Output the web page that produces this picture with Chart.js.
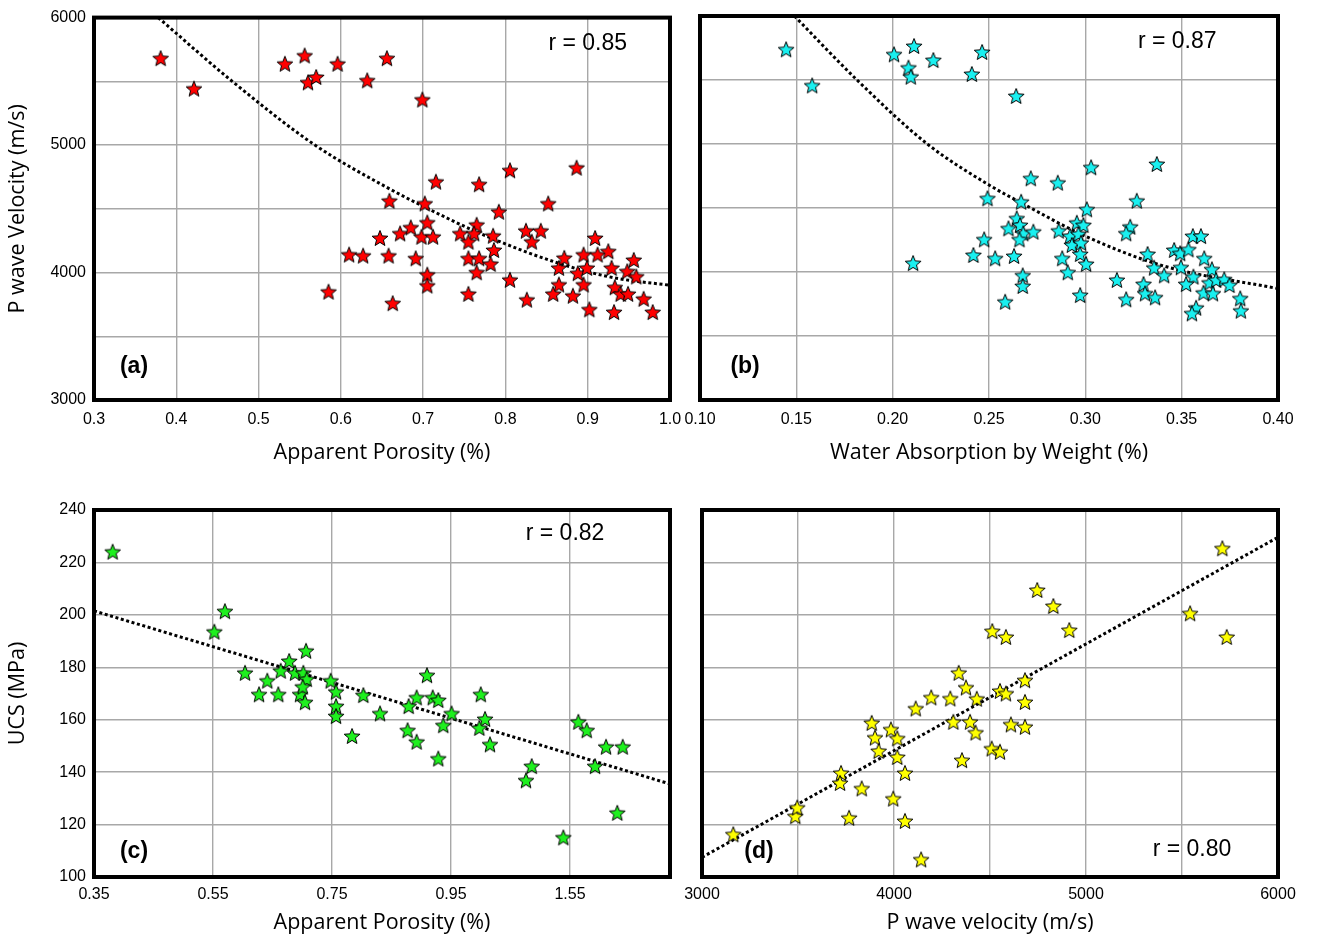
<!DOCTYPE html>
<html>
<head>
<meta charset="utf-8">
<script src="https://cdn.jsdelivr.net/npm/chart.js@4.4.1/dist/chart.umd.min.js"></script>
<style>
    html, body { margin: 0; padding: 0; background: #fff; }
    #wrap { position: relative; width: 1318px; height: 943px; }
    #wrap canvas { position: absolute; left: 0; top: 0; }
</style>
</head>
<body>
<div id="wrap">
    <canvas id="chart-a" width="1318" height="943"></canvas>
    <canvas id="chart-b" width="1318" height="943"></canvas>
    <canvas id="chart-c" width="1318" height="943"></canvas>
    <canvas id="chart-d" width="1318" height="943"></canvas>
</div>
<script>
// (a) apparent porosity vs P wave velocity
const porosityA = [0.381, 0.4215, 0.532, 0.556, 0.560, 0.570, 0.596, 0.632, 0.656, 0.699,
    0.659, 0.7155, 0.768, 0.8055, 0.8865, 0.852, 0.702, 0.792, 0.6475, 0.672,
    0.685, 0.705, 0.698, 0.712, 0.658, 0.691, 0.705, 0.705, 0.663, 0.745,
    0.765, 0.762, 0.755, 0.785, 0.786, 0.755, 0.768, 0.782, 0.765, 0.755,
    0.8055, 0.825, 0.843, 0.832, 0.826, 0.865, 0.8715, 0.865, 0.858, 0.882,
    0.888, 0.895, 0.899, 0.895, 0.909, 0.912, 0.902, 0.925, 0.929, 0.933,
    0.940, 0.949, 0.948, 0.956, 0.959, 0.932, 0.968, 0.979, 0.585, 0.610, 0.627];
const velocityA = [5682, 5443, 5638, 5703, 5492, 5534, 5638, 5508, 5682, 5357,
    4563, 4713, 4693, 4802, 4823, 4542, 4542, 4477, 4271, 4307,
    4354, 4393, 4281, 4281, 4133, 4112, 3984, 3898, 3760, 4307,
    4375, 4307, 4242, 4289, 4177, 4112, 4112, 4068, 4002, 3833,
    3943, 4328, 4328, 4242, 3787, 4037, 4115, 3906, 3833, 3818,
    3995, 4141, 4037, 3906, 4271, 4141, 3711, 4167, 4037, 3885,
    3833, 3833, 4010, 4099, 3969, 3690, 3794, 3690, 3850, 4141, 4133];
const trendAX = [0.378, 0.468, 0.5685, 0.657, 0.70, 0.77, 0.866, 0.931, 1.0];
const trendAY = [6000, 5500, 5000, 4664, 4520, 4305, 4070, 3960, 3900];

// (b) water absorption vs P wave velocity
const absorptionB = [0.1447, 0.1582, 0.2007, 0.2111, 0.2082, 0.2094, 0.2211, 0.2411, 0.2464, 0.2641,
    0.303, 0.3371, 0.2717, 0.2857, 0.2492, 0.2667, 0.3008, 0.3267, 0.2644, 0.2661,
    0.2601, 0.2678, 0.273, 0.2658, 0.2475, 0.2419, 0.2532, 0.2630, 0.2675, 0.2675,
    0.2584, 0.2862, 0.2956, 0.299, 0.2921, 0.2964, 0.293, 0.2977, 0.288, 0.2973,
    0.3004, 0.2909, 0.2973, 0.3233, 0.3212, 0.3164, 0.3212, 0.3323, 0.3357, 0.3302,
    0.331, 0.3362, 0.3409, 0.3461, 0.3492, 0.3535, 0.3558, 0.360, 0.3496, 0.3561,
    0.3523, 0.3617, 0.3657, 0.3644, 0.3679, 0.3613, 0.3662, 0.3721, 0.3748, 0.3575,
    0.3553, 0.3804, 0.3807, 0.2106];
const velocityB = [5740, 5458, 5701, 5766, 5597, 5526, 5656, 5547, 5719, 5375,
    4818, 4844, 4732, 4698, 4576, 4549, 4490, 4557, 4419, 4367,
    4341, 4302, 4315, 4255, 4255, 4133, 4107, 4125, 3974, 3891,
    3768, 4323, 4385, 4367, 4281, 4297, 4211, 4229, 4107, 4141,
    4063, 3998, 3820, 4354, 4302, 3938, 3787, 4141, 4034, 3906,
    3833, 3802, 3974, 4172, 4146, 4177, 4281, 4281, 4037, 3964,
    3906, 4107, 4021, 3917, 3938, 3838, 3833, 3943, 3898, 3721,
    3677, 3794, 3698, 4070];
const trendBX = [0.149, 0.1815, 0.218, 0.25, 0.268, 0.30, 0.34, 0.40];
const trendBY = [6000, 5500, 5000, 4680, 4530, 4280, 4050, 3870];

// (c) apparent porosity vs UCS
const porosityC = [0.3814, 0.570, 0.5522, 0.7063, 0.678, 0.6038, 0.6638, 0.6878, 0.7018, 0.7075,
    0.6412, 0.7477, 0.7567, 0.8026, 0.6273, 0.6597, 0.6962, 0.7007, 0.7046, 0.7567,
    0.7567, 0.7836, 0.8307, 0.9096, 0.8922, 0.8788, 0.9192, 0.9286, 0.951, 0.937,
    0.877, 0.8922, 0.9286, 1.0, 1.0072, 0.9976, 1.0155, 1.0856, 1.076, 1.1388,
    1.164, 1.178, 1.192, 1.2105, 1.2385, 1.2294];
const ucsC = [224.1, 201.4, 193.6, 186.3, 182.4, 177.9, 178.7, 177.9, 177.9, 175.5,
    174.9, 174.9, 170.7, 169.4, 169.7, 169.7, 169.7, 172.6, 166.7, 165.2,
    161.4, 153.8, 162.4, 177.0, 168.5, 165.2, 168.5, 167.5, 162.4, 157.9,
    156.0, 151.6, 145.2, 169.7, 160.3, 156.9, 150.6, 142.3, 136.9, 115.1,
    159.2, 156.0, 142.3, 149.7, 149.7, 124.5];
const trendCX = [0.35, 1.318];
const trendCY = [201.5, 135.5];

// (d) P wave velocity vs UCS
const velocityD = [3163, 3486, 3496, 3724, 3719, 3766, 3832, 3884, 3901, 3920,
    3984, 4017, 4017, 4057, 3996, 4057, 4141, 4113, 4194, 4293,
    4337, 4375, 4431, 4309, 4396, 4425, 4354, 4512, 4583, 4746,
    4830, 4913, 4552, 4583, 4682, 4682, 4609, 4682, 4509, 4552,
    5710, 5542, 5733];
const ucsD = [116.3, 123.2, 126.5, 139.7, 135.9, 122.6, 133.8, 158.8, 153.2, 148.1,
    156.3, 152.9, 145.8, 139.7, 129.9, 121.4, 106.7, 164.3, 168.5, 168.1,
    177.9, 172.3, 168.0, 159.2, 159.2, 155.1, 144.6, 193.8, 191.6, 209.5,
    203.4, 194.2, 171.0, 170.0, 175.1, 166.8, 158.2, 157.3, 149.0, 147.8,
    225.4, 200.6, 191.6];
const trendDX = [3000, 6000];
const trendDY = [107.5, 229.6];

// ticks
const aXTicks  = [0.3, 0.4, 0.5, 0.6, 0.7, 0.8, 0.9, 1.0];
const aXLabels = ['0.3', '0.4', '0.5', '0.6', '0.7', '0.8', '0.9', '1.0'];
const bXTicks  = [0.10, 0.15, 0.20, 0.25, 0.30, 0.35, 0.40];
const bXLabels = ['0.10', '0.15', '0.20', '0.25', '0.30', '0.35', '0.40'];
const velTicks  = [3000, 3500, 4000, 4500, 5000, 5500, 6000];
const velLabels = ['3000', '', '4000', '', '5000', '', '6000'];
const cXTicks  = [0.35, 0.55, 0.75, 0.95, 1.15];
const cXLabels = ['0.35', '0.55', '0.75', '0.95', '1.55'];
const ucsTicks  = [100, 120, 140, 160, 180, 200, 220, 240];
const ucsLabels = ['100', '120', '140', '160', '180', '200', '220', '240'];

const TICK_FONT  = { family: '"Liberation Sans", Arial, sans-serif', size: 16 };
const TITLE_FONT = { family: '"Comic Sans MS", "Open Sans", sans-serif', size: 21.5 };
const GRID       = { color: '#a8a8a8', lineWidth: 1.4, drawTicks: false };

const stars = {};
function starImage(fill) {
    if (stars[fill]) return stars[fill];
    const c = document.createElement('canvas');
    c.width = 20; c.height = 20;
    const ctx = c.getContext('2d');
    const ro = 8.3, ri = 3.6;
    ctx.beginPath();
    for (let i = 0; i < 10; i++) {
        const r = i % 2 ? ri : ro;
        const ang = -Math.PI / 2 + i * Math.PI / 5;
        const px = 10 + r * Math.cos(ang), py = 10.8 + r * Math.sin(ang);
        if (i) ctx.lineTo(px, py); else ctx.moveTo(px, py);
    }
    ctx.closePath();
    ctx.fillStyle = fill;
    ctx.fill();
    ctx.lineWidth = 1;
    ctx.strokeStyle = '#000';
    ctx.stroke();
    stars[fill] = c;
    return c;
}

// frame + "r =" note + panel letter
const panelDecor = {
    id: 'panelDecor',
    afterDatasetsDraw(chart, args, o) {
        const { ctx, chartArea: a, scales: { x, y } } = chart;
        ctx.save();
        ctx.lineWidth = 4;
        ctx.strokeStyle = '#000';
        ctx.strokeRect(a.left, a.top, a.right - a.left, a.bottom - a.top);
        ctx.fillStyle = '#000';
        ctx.textAlign = 'center';
        ctx.textBaseline = 'middle';
        ctx.font = '23px "Liberation Sans", Arial, sans-serif';
        ctx.fillText(o.r, x.getPixelForValue(o.rAt[0]), y.getPixelForValue(o.rAt[1]));
        ctx.font = 'bold 23px "Liberation Sans", Arial, sans-serif';
        ctx.fillText(o.tag, x.getPixelForValue(o.tagAt[0]), y.getPixelForValue(o.tagAt[1]));
        ctx.restore();
    }
};

function pairs(xs, ys) {
    return xs.map((v, i) => ({ x: v, y: ys[i] }));
}

function makePanel(id, p) {
    return new Chart(document.getElementById(id), {
        type: 'scatter',
        plugins: [panelDecor],
        data: {
            datasets: [
                {
                    data: pairs(p.xs, p.ys),
                    pointStyle: starImage(p.fill),
                    pointRadius: 8,
                    order: 0,
                },
                {
                    type: 'line',
                    data: pairs(p.tx, p.ty),
                    borderColor: '#000',
                    borderWidth: 3,
                    borderDash: [3, 2.6],
                    pointRadius: 0,
                    fill: false,
                    cubicInterpolationMode: 'monotone',
                    order: 1,
                },
            ]
        },
        options: {
            responsive: false,
            animation: false,
            devicePixelRatio: 1,
            layout: { padding: p.pad },
            plugins: {
                legend: { display: false },
                tooltip: { enabled: false },
                panelDecor: p.decor,
            },
            scales: {
                x: {
                    type: 'linear',
                    min: p.xMin, max: p.xMax,
                    afterBuildTicks: s => { s.ticks = p.xTicks.map(v => ({ value: v })); },
                    afterFit: s => { s.height = p.xH; },
                    ticks: { callback: (v, i) => p.xLabels[i], color: '#000', font: TICK_FONT,
                             padding: p.xPad, maxRotation: 0, autoSkip: false },
                    grid: GRID,
                    border: { display: false },
                    title: { display: true, text: p.xTitle, color: '#000', font: TITLE_FONT,
                             padding: { top: 0, bottom: 4 } },
                },
                y: {
                    type: 'linear',
                    min: p.yMin, max: p.yMax,
                    afterBuildTicks: s => { s.ticks = p.yTicks.map(v => ({ value: v })); },
                    afterFit: s => { s.width = p.yW; },
                    ticks: { display: !!p.yTitle, callback: (v, i) => p.yLabels[i], color: '#000',
                             font: TICK_FONT, padding: 8, autoSkip: false },
                    grid: GRID,
                    border: { display: false },
                    title: { display: !!p.yTitle, text: p.yTitle || '', color: '#000', font: TITLE_FONT,
                             padding: { top: 4, bottom: 0 } },
                }
            }
        }
    });
}

makePanel('chart-a', {
    xs: porosityA, ys: velocityA, tx: trendAX, ty: trendAY, fill: '#ff0000',
    xMin: 0.3, xMax: 1.0, xTicks: aXTicks, xLabels: aXLabels,
    yMin: 3000, yMax: 6000, yTicks: velTicks, yLabels: velLabels,
    xTitle: 'Apparent Porosity (%)', yTitle: 'P wave Velocity (m/s)',
    pad: { left: 1, top: 16, right: 648, bottom: 473 }, xH: 70, yW: 93, xPad: 10,
    decor: { r: 'r = 0.85', rAt: [0.9, 5797], tag: '(a)', tagAt: [0.3486, 3258] },
});

makePanel('chart-b', {
    xs: absorptionB, ys: velocityB, tx: trendBX, ty: trendBY, fill: '#19f0f0',
    xMin: 0.10, xMax: 0.40, xTicks: bXTicks, xLabels: bXLabels,
    yMin: 3000, yMax: 6000, yTicks: velTicks, yLabels: velLabels,
    xTitle: 'Water Absorption by Weight (%)', yTitle: null,
    pad: { left: 700, top: 16, right: 40, bottom: 473 }, xH: 70, yW: 0, xPad: 10,
    decor: { r: 'r = 0.87', rAt: [0.3477, 5797], tag: '(b)', tagAt: [0.1234, 3258] },
});

makePanel('chart-c', {
    xs: porosityC, ys: ucsC, tx: trendCX, ty: trendCY, fill: '#1ef01e',
    xMin: 0.35, xMax: 1.318, xTicks: cXTicks, xLabels: cXLabels,
    yMin: 100, yMax: 240, yTicks: ucsTicks, yLabels: ucsLabels,
    xTitle: 'Apparent Porosity (%)', yTitle: 'UCS (MPa)',
    pad: { left: 1, top: 510, right: 648, bottom: 3 }, xH: 63, yW: 93, xPad: 8,
    decor: { r: 'r = 0.82', rAt: [1.1416, 230.8], tag: '(c)', tagAt: [0.4172, 109.5] },
});

makePanel('chart-d', {
    xs: velocityD, ys: ucsD, tx: trendDX, ty: trendDY, fill: '#ffff00',
    xMin: 3000, xMax: 6000, xTicks: velTicks, xLabels: velLabels,
    yMin: 100, yMax: 240, yTicks: ucsTicks, yLabels: ucsLabels,
    xTitle: 'P wave velocity (m/s)', yTitle: null,
    pad: { left: 702, top: 510, right: 40, bottom: 3 }, xH: 63, yW: 0, xPad: 8,
    decor: { r: 'r = 0.80', rAt: [5552, 110.6], tag: '(d)', tagAt: [3297, 109.5] },
});
</script>
</body>
</html>
